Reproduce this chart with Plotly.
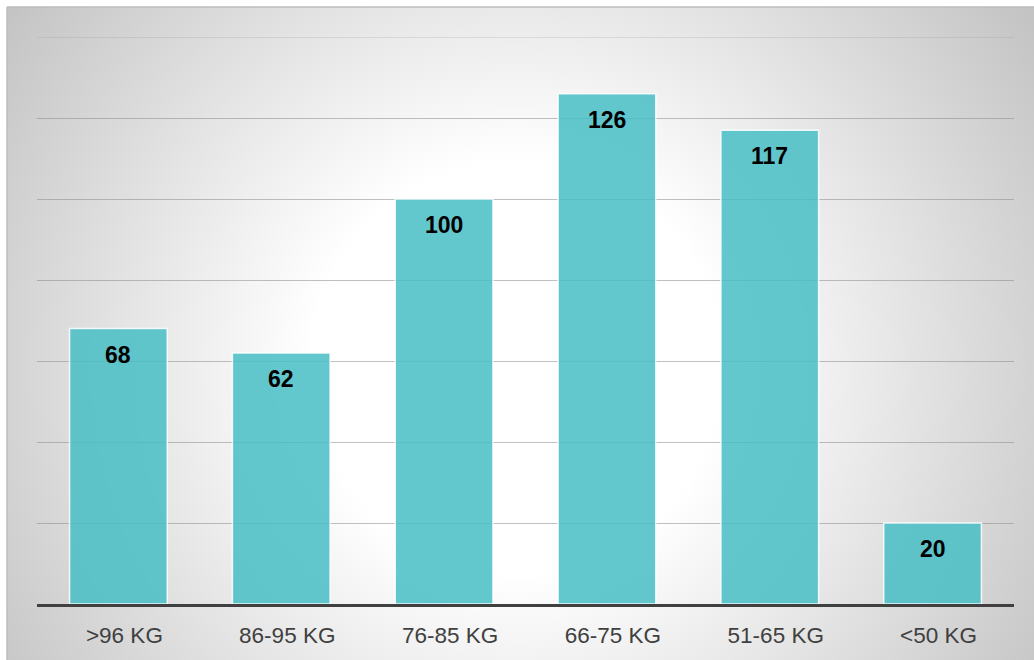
import base64
import plotly.graph_objects as go

categories = [">96 KG", "86-95 KG", "76-85 KG", "66-75 KG", "51-65 KG", "<50 KG"]
values = [68, 62, 100, 126, 117, 20]
y_max = 140

W, H = 1034, 660
L, R, T, B = 37, 20, 37, 56
pw, ph = W - L - R, H - T - B

svg = (
    '<svg xmlns="http://www.w3.org/2000/svg" width="1027" height="653" viewBox="0 0 1027 653" preserveAspectRatio="none">'
    '<defs><radialGradient id="g" cx="510" cy="360" r="620" gradientUnits="userSpaceOnUse">'
    '<stop offset="0" stop-color="#ffffff"/>'
    '<stop offset="0.33" stop-color="#ffffff"/>'
    '<stop offset="1" stop-color="#c4c4c4"/>'
    '</radialGradient></defs>'
    '<rect x="0" y="0" width="1027" height="653" fill="url(#g)"/>'
    '</svg>'
)
src = "data:image/svg+xml;base64," + base64.b64encode(svg.encode()).decode()

fig = go.Figure()
fig.add_trace(go.Bar(
    x=categories, y=values,
    marker=dict(color="rgba(72,189,198,0.85)", line=dict(color="rgba(255,255,255,0.85)", width=1.5)),
    width=0.6, hoverinfo="x+y",
))

for c, v in zip(categories, values):
    fig.add_annotation(x=c, y=v, text=str(v), showarrow=False, yanchor="middle", yshift=-26,
                       font=dict(family="Liberation Sans, Arial", size=23, color="black", weight="bold"))

fig.add_layout_image(dict(
    source=src, xref="paper", yref="paper",
    x=(7 - L) / pw, y=1 + (T - 7) / ph,
    sizex=(W - 7) / pw, sizey=(H - 7) / ph,
    sizing="stretch", xanchor="left", yanchor="top", layer="below",
))

# frame border (top and left)
fig.add_shape(type="line", xref="paper", yref="paper",
              x0=(7 - L) / pw, x1=(W - L) / pw + 0.01, y0=1 + (T - 7) / ph, y1=1 + (T - 7) / ph,
              line=dict(color="#bdbdbd", width=1.5))
fig.add_shape(type="line", xref="paper", yref="paper",
              x0=(7 - L) / pw, x1=(7 - L) / pw, y0=1 + (T - 7) / ph, y1=-0.2,
              line=dict(color="#bdbdbd", width=1.5))
# top gridline (lighter)
fig.add_shape(type="line", xref="paper", yref="y", x0=0, x1=1, y0=y_max, y1=y_max,
              line=dict(color="rgba(150,150,150,0.3)", width=1.5), layer="below")

fig.update_layout(
    width=W, height=H,
    margin=dict(l=L, r=R, t=T, b=B),
    paper_bgcolor="white", plot_bgcolor="rgba(0,0,0,0)",
    showlegend=False, bargap=0.4,
    font=dict(family="Liberation Sans, Arial"),
)
fig.update_xaxes(
    showline=True, linecolor="#404040", linewidth=3, showgrid=False,
    tickfont=dict(size=22.5, color="#404040"), ticks="", ticklabelstandoff=9, ticklabelshift=6,
)
fig.update_yaxes(
    range=[0, y_max], dtick=20, showgrid=True, gridcolor="rgba(140,140,140,0.55)", gridwidth=1.2,
    showticklabels=False, zeroline=False, showline=False,
)

fig.write_html("out.html", config={"displayModeBar": False},
               post_script="document.body.style.margin='0';document.body.style.overflow='hidden';")
